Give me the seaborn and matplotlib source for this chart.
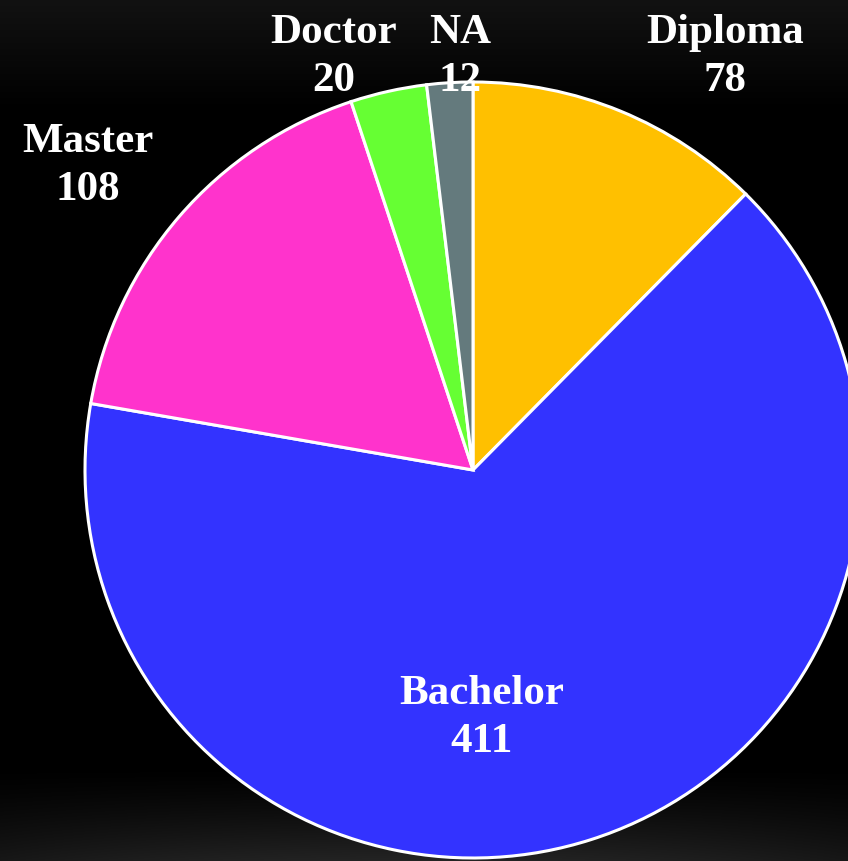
import numpy as np
import matplotlib
matplotlib.use("Agg")
import matplotlib.pyplot as plt
import seaborn as sns

# ---- data ----
categories = ["Diploma", "Bachelor", "Master", "Doctor", "NA"]
counts = [78, 411, 108, 20, 12]
slice_colors = ["#FFC000", "#3333FF", "#FF33CC", "#66FF33", "#647A7D"]

# ---- style ----
sns.set_theme(style="dark")
plt.rcParams["font.family"] = ["Liberation Serif", "DejaVu Serif"]

W, H = 848, 861
fig = plt.figure(figsize=(W / 100, H / 100), dpi=100)
ax = fig.add_axes([0, 0, 1, 1])

# background gradient (dark top band, soft glow at bottom)
yy, xx = np.mgrid[0:H, 0:W].astype(float)
top = 0.07 * np.clip(1 - yy / 110.0, 0, 1)
bot = 0.14 * np.clip((yy - 765) / 96.0, 0, 1) ** 1.3 * (1 - 0.35 * ((xx - 424) / 424.0) ** 2)
bg = np.clip(top + bot, 0, 1)
ax.imshow(np.dstack([bg, bg, bg]), extent=[0, W, 0, H], origin="upper", zorder=0,
          interpolation="bilinear")

palette = sns.color_palette(slice_colors)
cx, cy, r = 473, H - 470, 388
ax.pie(counts, colors=palette, startangle=90, counterclock=False,
       center=(cx, cy), radius=r,
       wedgeprops=dict(edgecolor="white", linewidth=2.2, zorder=2))

# label positions in pixel coordinates (x, y from top)
label_pos = {"Diploma": (725, 57), "Bachelor": (482, 718), "Master": (88, 166),
             "Doctor": (334, 57), "NA": (460, 57)}
for cat, val in zip(categories, counts):
    px, py = label_pos[cat]
    ax.text(px, H - py, f"{cat}\n{val}", ha="center", va="center", color="white",
            fontsize=31, fontweight="bold", linespacing=1.36, zorder=5)

ax.set_xlim(0, W)
ax.set_ylim(0, H)
ax.set_aspect("equal")
ax.axis("off")
fig.patch.set_facecolor("black")
fig.savefig("out.png", dpi=100, facecolor="black")
